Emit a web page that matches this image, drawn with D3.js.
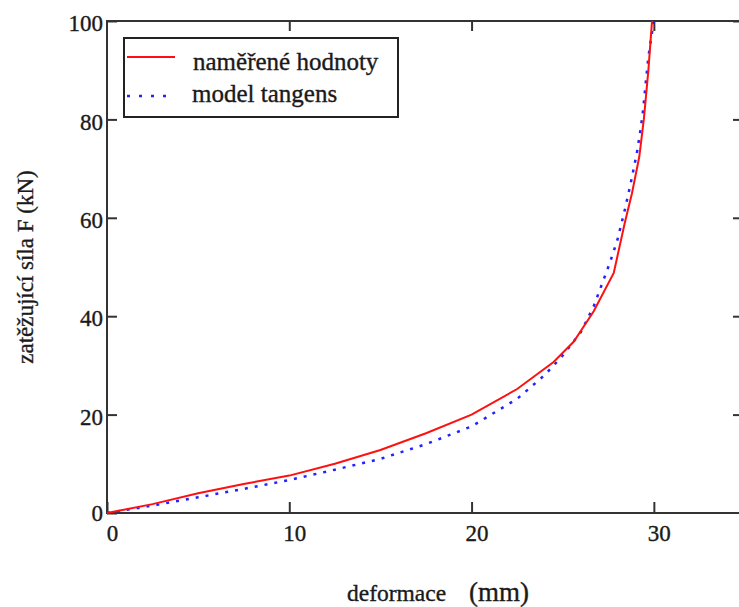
<!DOCTYPE html>
<html>
<head>
<meta charset="utf-8">
<script src="https://cdn.jsdelivr.net/npm/d3@7"></script>
<style>
  html, body { margin: 0; padding: 0; background: #fff; }
  svg { display: block; }
  text { font-family: "Liberation Serif", "Times New Roman", serif; fill: #1a1a1a; stroke: #1a1a1a; stroke-width: 0.35px; }
</style>
</head>
<body>
<svg id="chart" width="739" height="607"></svg>
<script>
// Measured load vs. deformation
const measuredDeformation = [0, 2.5, 5, 7.5, 10, 12.5, 15, 17.5, 20, 22.5, 24.5, 25.6, 26.7, 27.8, 28.4, 28.8, 29.2, 29.45, 29.7, 29.9];
const measuredForce       = [0, 1.8, 4.0, 5.9, 7.6, 10.0, 12.8, 16.2, 20.0, 25.2, 30.7, 34.8, 41.0, 48.8, 58.9, 65.0, 72.4, 80.0, 90.0, 100];

// Tangent model
const modelDeformation = [0, 2.5, 5, 7.5, 10, 12.5, 15, 17.5, 20, 22.5, 24, 25, 26, 26.7, 27.2, 27.6, 28, 28.4, 28.7, 29.07, 29.24, 29.4, 29.57, 29.7, 29.85, 30];
const modelForce       = [0, 1.5, 3.2, 4.9, 6.7, 8.8, 11.0, 14.0, 17.6, 23.2, 28.0, 32.0, 36.8, 42.0, 47.0, 51.0, 55.5, 61.5, 66.5, 73.2, 77.2, 81.5, 88.0, 92.7, 96.5, 100];

const xTicks = [0, 10, 20, 30];
const yTicks = [0, 20, 40, 60, 80, 100];

const legendLabels = ["naměřené hodnoty", "model tangens"];
const xTitle = "deformace";
const xUnit = "(mm)";
const yTitle = "zatěžující síla F (kN)";

const svg = d3.select("#chart");
const plotLeft = 107, plotRight = 745, plotTop = 21, plotBottom = 513;

const x = d3.scaleLinear().domain([0, 35]).range([plotLeft, plotRight]);
const y = d3.scaleLinear().domain([0, 100]).range([plotBottom, plotTop]);

const axisColor = "#333";

// Bottom axis with inward ticks
const gx = svg.append("g")
  .attr("transform", `translate(0,${plotBottom})`)
  .call(d3.axisBottom(x).tickValues(xTicks).tickSizeInner(-11).tickSizeOuter(0).tickPadding(12).tickFormat(d3.format("d")));
gx.select(".domain").remove();
gx.selectAll(".tick line").attr("stroke", axisColor).attr("stroke-width", 2);
gx.selectAll(".tick text").attr("x", 5).style("font-size", "23px").attr("font-family", null).attr("fill", "#1a1a1a");

// Left axis with inward ticks
const gy = svg.append("g")
  .attr("transform", `translate(${plotLeft},0)`)
  .call(d3.axisLeft(y).tickValues(yTicks).tickSizeInner(-10).tickSizeOuter(0).tickPadding(4).tickFormat(d3.format("d")));
gy.select(".domain").remove();
gy.selectAll(".tick line").attr("stroke", axisColor).attr("stroke-width", 2);
gy.selectAll(".tick text").attr("dy", "0.42em").style("font-size", "23px").attr("font-family", null).attr("fill", "#1a1a1a");
gy.selectAll(".tick").filter(d => d === 0).select("text").attr("x", -4).attr("dy", "0.32em");

// Top and right ticks pointing inward
const gTop = svg.append("g")
  .attr("transform", `translate(0,${plotTop})`)
  .call(d3.axisTop(x).tickValues(xTicks.filter(d => d > 0)).tickSizeInner(-10).tickSizeOuter(0).tickFormat(""));
gTop.select(".domain").remove();
gTop.selectAll(".tick line").attr("stroke", axisColor).attr("stroke-width", 2);

const gRight = svg.append("g")
  .attr("transform", `translate(${plotRight},0)`)
  .call(d3.axisRight(y).tickValues(yTicks.filter(d => d > 0)).tickSizeInner(-12).tickSizeOuter(0).tickFormat(""));
gRight.select(".domain").remove();
gRight.selectAll(".tick line").attr("stroke", axisColor).attr("stroke-width", 2);

// Plot frame
svg.append("rect")
  .attr("x", plotLeft).attr("y", plotTop)
  .attr("width", plotRight - plotLeft).attr("height", plotBottom - plotTop)
  .attr("fill", "none").attr("stroke", axisColor).attr("stroke-width", 2);

const line = d3.line().x(d => x(d[0])).y(d => y(d[1]));

// Model curve (dotted)
svg.append("path")
  .datum(d3.zip(modelDeformation, modelForce))
  .attr("d", line)
  .attr("fill", "none")
  .attr("stroke", "#2222ff")
  .attr("stroke-width", 2.5)
  .attr("stroke-dasharray", "3,7");

// Measured curve
svg.append("path")
  .datum(d3.zip(measuredDeformation, measuredForce))
  .attr("d", line)
  .attr("fill", "none")
  .attr("stroke", "#ff1010")
  .attr("stroke-width", 2);

// Legend
const lg = svg.append("g");
lg.append("rect")
  .attr("x", 124).attr("y", 38).attr("width", 274).attr("height", 79)
  .attr("fill", "#fff").attr("stroke", "#222").attr("stroke-width", 2);
lg.append("line")
  .attr("x1", 127).attr("x2", 175).attr("y1", 57).attr("y2", 57)
  .attr("stroke", "#ff1010").attr("stroke-width", 2);
lg.append("line")
  .attr("x1", 127).attr("x2", 167).attr("y1", 96).attr("y2", 96)
  .attr("stroke", "#2222ff").attr("stroke-width", 2.5).attr("stroke-dasharray", "3,9");
lg.append("text").attr("x", 193).attr("y", 70).style("font-size", "25px").text(legendLabels[0]);
lg.append("text").attr("x", 192).attr("y", 102).style("font-size", "25px").text(legendLabels[1]);

// Axis titles
svg.append("text").attr("x", 347).attr("y", 601).style("font-size", "23.5px").text(xTitle);
svg.append("text").attr("x", 469).attr("y", 601).style("font-size", "27px").text(xUnit);
svg.append("text")
  .attr("transform", "translate(33,267) rotate(-90)")
  .attr("text-anchor", "middle")
  .style("font-size", "23px")
  .text(yTitle);
</script>
</body>
</html>
